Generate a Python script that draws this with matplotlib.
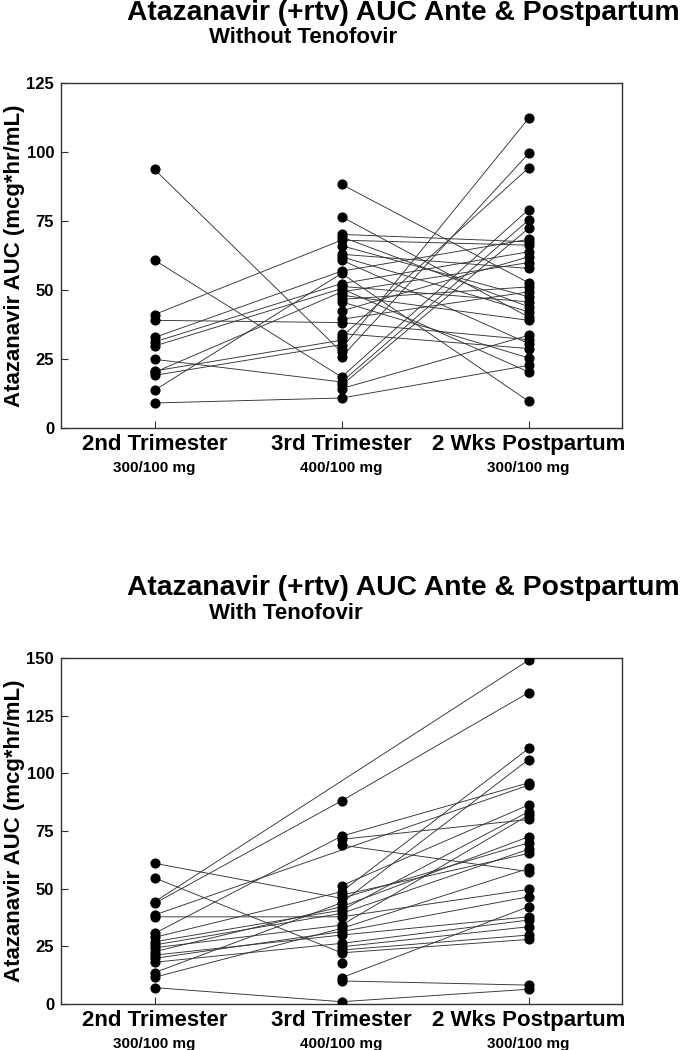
import numpy as np
import matplotlib
matplotlib.use('Agg')
import matplotlib.pyplot as plt

plt.rcParams['font.family'] = ['Liberation Sans', 'DejaVu Sans']
plt.rcParams['font.weight'] = 'bold'

visits = ['2nd Trimester', '3rd Trimester', '2 Wks Postpartum']
doses = ['300/100 mg', '400/100 mg', '300/100 mg']

# Without Tenofovir: one entry per subject (nan = no sample)
wo_2nd = [93.7, 60.9, 41.2, 39.1, 32.9, 31.3, 29.8, 25.0, 20.8, 20.3, 19.2, 13.8, 9.2,
          np.nan, np.nan, np.nan, np.nan, np.nan, np.nan, np.nan, np.nan, np.nan,
          np.nan, np.nan, np.nan, np.nan, np.nan, np.nan, np.nan, np.nan, np.nan,
          np.nan, np.nan]
wo_3rd = [27.6, 18.6, 68.1, 38.3, 56.9, 52.4, 50.6, 16.8, 31.9, 49.4, 30.3, 56.1, 11.0,
          88.3, 76.6, 70.2, 69.3, 66.1, 63.0, 62.1, 60.9, 51.4,
          48.2, 46.7, 45.8, 42.5, 39.5, 34.3, 33.1, 28.9, 25.8,
          15.6, 14.4]
wo_pp = [np.nan, 79.2, 66.3, 32.1, 68.4, 63.9, 20.4, 75.4, np.nan, 60.0, np.nan, 9.8, 22.8,
         52.7, 40.3, 67.5, 44.0, 47.6, 57.9, 42.2, 30.7, 45.8,
         39.1, 51.2, 25.5, 62.1, 49.4, 28.9, 94.3, 112.2, 99.5,
         72.4, 33.7]

# With Tenofovir
w_2nd = [61.0, 54.7, 44.3, 43.6, 38.6, 37.8, 30.6, 28.9, 27.0, 25.6, 24.4, 22.7, 21.2,
         19.8, 18.1, 13.6, 11.6, 7.1,
         np.nan, np.nan, np.nan, np.nan, np.nan, np.nan, np.nan, np.nan, np.nan]
w_3rd = [45.8, 22.2, np.nan, 88.1, np.nan, 37.8, 72.8, 48.7, 40.7, 39.3, 34.2, 42.2, 29.9,
         31.4, 26.3, 43.9, 32.8, 1.0,
         71.4, 68.9, 51.3, 47.2, 24.8, 23.4, 17.9, 11.4, 10.0]
w_pp = [69.9, 28.0, 149.1, 135.0, 94.9, 49.7, 95.9, 110.8, 83.4, 67.1, 81.9, 72.5, 37.8,
        46.5, 36.4, 106.0, 58.8, 6.4,
        80.0, 57.4, 86.3, 65.3, 33.5, 29.9, np.nan, 42.2, 8.2]

W, H = 680, 1050
panels = [
    ('Without Tenofovir', wo_2nd, wo_3rd, wo_pp, 125, [0.0897, 0.592, 0.8253, 0.329]),
    ('With Tenofovir', w_2nd, w_3rd, w_pp, 150, [0.0897, 0.0438, 0.8253, 0.3295]),
]

fig = plt.figure(figsize=(W / 100, H / 100), dpi=100)

for sub, a, b, c, ymax, rect in panels:
    ax = fig.add_axes(rect)
    data = np.array([a, b, c], dtype=float).T
    xpos = np.array([1, 2, 3])
    for row in data:
        ok = ~np.isnan(row)
        ax.plot(xpos[ok], row[ok], color='#333333', lw=0.65, zorder=2)
        ax.plot(xpos[ok], row[ok], 'o', color='black', ms=6.3, mec='black', zorder=3)
    ax.set_xlim(0.5, 3.5)
    ax.set_ylim(0, ymax)
    ax.set_yticks(np.arange(0, ymax + 1, 25))
    ax.set_xticks(xpos)
    ax.set_xticklabels(visits, fontsize=16, fontweight='bold')
    ax.tick_params(axis='both', direction='in', length=5, width=0.8, color='#333333',
                   top=False, right=False)
    ax.tick_params(axis='y', labelsize=12, pad=5)
    ax.tick_params(axis='x', pad=4)
    for lab in ax.get_yticklabels():
        lab.set_fontweight('bold')
    for sp in ax.spines.values():
        sp.set_color('#333333')
        sp.set_linewidth(1.0)
    for x, d in zip(xpos, doses):
        ax.annotate(d, xy=(x, 0), xycoords=('data', 'axes fraction'),
                    xytext=(0, -23.5), textcoords='offset points',
                    ha='center', va='top', fontsize=11, fontweight='bold')

    top_px = H * (1 - (rect[1] + rect[3]))
    mid = rect[1] + rect[3] / 2
    fig.text(15 / W, mid, 'Atazanavir AUC (mcg*hr/mL)', rotation=90,
             fontsize=16, fontweight='bold', ha='center', va='center')
    fig.text(127 / W, 1 - (top_px - 63) / H, 'Atazanavir (+rtv) AUC Ante & Postpartum',
             fontsize=20.3, fontweight='bold', ha='left', va='baseline')
    fig.text(209 / W, 1 - (top_px - 39.5) / H, sub, fontsize=16, fontweight='bold',
             ha='left', va='baseline')

fig.savefig('out.png', dpi=100)
